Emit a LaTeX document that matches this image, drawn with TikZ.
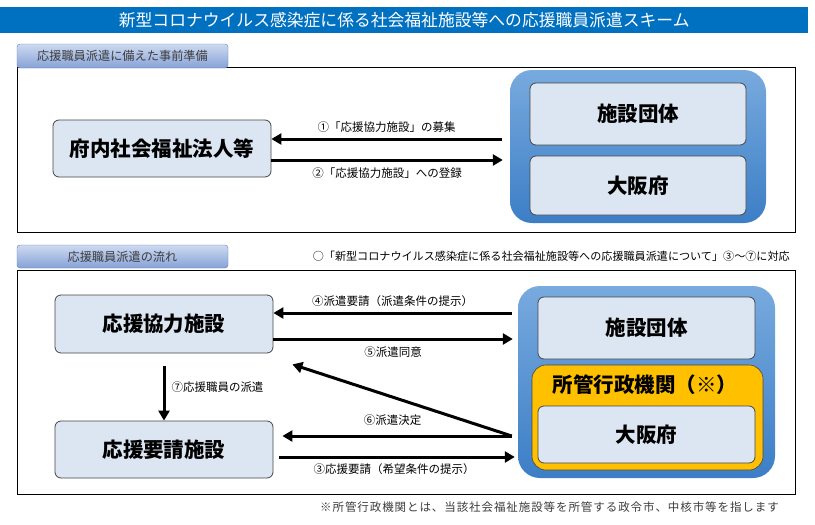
\documentclass[tikz,border=0pt]{standalone}
\usepackage{fontspec}
\setmainfont{Noto Sans CJK JP}
\usepackage{tikz}
\usetikzlibrary{arrows.meta,positioning,calc}
\definecolor{titleblue}{RGB}{0,112,192}
\definecolor{boxfill}{RGB}{220,230,242}
\definecolor{boxline}{RGB}{70,70,70}
\definecolor{tabtop}{RGB}{205,218,240}
\definecolor{tabbot}{RGB}{135,162,215}
\definecolor{tabline}{RGB}{95,125,185}
\definecolor{grptop}{RGB}{120,170,222}
\definecolor{grpbot}{RGB}{60,126,198}
\definecolor{govorange}{RGB}{255,192,0}
\definecolor{notegray}{RGB}{60,60,60}

\begin{document}
\begin{tikzpicture}[x=1pt, y=-1pt,
  box/.style={draw=boxline, fill=boxfill, rounded corners=6pt, line width=0.8pt, inner sep=0pt, font=\fontsize{20.5}{20.5}\selectfont\bfseries},
  grp/.style={rounded corners=22pt, top color=grptop, bottom color=grpbot, inner sep=0pt},
  tabbox/.style={draw=tabline, top color=tabtop, bottom color=tabbot, rounded corners=3pt, inner sep=0pt, minimum width=211pt, font=\fontsize{12.2}{12}\selectfont, text=notegray},
  arr/.style={line width=3pt, -{Triangle[length=10pt,width=11pt]}},
  lbl/.style={font=\fontsize{11.5}{12}\selectfont, inner sep=1pt}]
\useasboundingbox (0,0) rectangle (815,525);
\fill[white] (0,0) rectangle (815,525);
% title
\node[fill=titleblue, anchor=north west, minimum width=808pt, minimum height=26pt, inner sep=0pt,
  font=\fontsize{16.8}{16.8}\selectfont, text=white] (title) at (0,7) {新型コロナウイルス感染症に係る社会福祉施設等への応援職員派遣スキーム};

% --- part 1
\draw[line width=0.8pt] (17,67) rectangle (795,232);
\node[tabbox, minimum height=24pt] (tab1) at (122.5,56) {応援職員派遣に備えた事前準備};
\node[box, minimum width=218pt, minimum height=57pt] (fuhou) at (162,148.5) {府内社会福祉法人等};
\node[grp, minimum width=256pt, minimum height=153pt] (outer1) at (638,146.5) {};
\node[box, minimum width=216pt, minimum height=62pt] (dantai1) at (638,114) {施設団体};
\node[box, minimum width=216pt, minimum height=59pt] (osaka1) at (638,185.5) {大阪府};
\coordinate (a1s) at ($(outer1.west)+(-8,-7.5)$);
\coordinate (a2e) at ($(outer1.west)+(-7,13.5)$);
\draw[arr] (a1s) -- (a1s -| fuhou.east) node[lbl, midway, above=4pt] {①「応援協力施設」の募集};
\draw[arr] (a2e -| fuhou.east) -- (a2e) node[lbl, midway, below=5pt] {②「応援協力施設」への登録};

% --- part 2
\draw[line width=0.8pt] (17,270) rectangle (795,494);
\node[tabbox, minimum height=23pt] (tab2) at (122.5,256.5) {応援職員派遣の流れ};
\node[anchor=east, inner sep=0pt, font=\fontsize{11.1}{11}\selectfont] (taiou) at (790,256)
  {○「新型コロナウイルス感染症に係る社会福祉施設等への応援職員派遣について」③～⑦に対応};
\node[box, minimum width=218pt, minimum height=58pt] (kyoryoku) at (164,324) {応援協力施設};
\node[box, minimum width=218pt, minimum height=57pt] (yousei) at (164,449.5) {応援要請施設};
\node[grp, minimum width=257pt, minimum height=192pt] (outer2) at (646.5,382) {};
\node[box, minimum width=217pt, minimum height=62pt] (dantai2) at (646.5,328) {施設団体};
\node[draw=boxline, fill=govorange, rounded corners=14pt, line width=0.6pt, minimum width=231pt, minimum height=105pt] (shokan) at (647.5,417.5) {};
\node[font=\fontsize{20.5}{20.5}\selectfont\bfseries, inner sep=0pt] (shokanlbl) at (645,385) {所管行政機関（※）};
\node[box, minimum width=217pt, minimum height=57pt] (osaka2) at (646.5,434.5) {大阪府};

\coordinate (a4s) at ($(outer2.west)+(-6,-69)$);
\coordinate (a5e) at ($(outer2.west)+(-5,-43)$);
\coordinate (a6s) at ($(outer2.west)+(-6,54)$);
\coordinate (a3e) at ($(outer2.west)+(-3,75)$);
\coordinate (a6e) at ($(kyoryoku.south east)+(19,11)$);
\draw[arr] (a4s) -- (a4s -| kyoryoku.east) node[lbl, midway, above=4pt] {④派遣要請（派遣条件の提示）};
\draw[arr] (a5e -| kyoryoku.east) -- (a5e) node[lbl, midway, below=5pt] {⑤派遣同意};
\draw[arr] (a6s) -- (a6e);
\draw[arr, shorten >=9pt] (a6s) -- (a6s -| yousei.east) node[lbl, midway, above=8pt] {⑥派遣決定};
\draw[arr, shorten <=6pt] (a3e -| yousei.east) -- (a3e) node[lbl, midway, below=4pt] {③応援要請（希望条件の提示）};
\draw[arr, shorten <=13pt] (kyoryoku.south) -- (yousei.north) node[lbl, midway, right=5pt] {⑦応援職員の派遣};

\node[anchor=east, inner sep=0pt, text=notegray, font=\fontsize{11.5}{11}\selectfont\addfontfeature{LetterSpace=8}] (chuki) at (779,507)
  {※所管行政機関とは、当該社会福祉施設等を所管する政令市、中核市等を指します};
\end{tikzpicture}
\end{document}
